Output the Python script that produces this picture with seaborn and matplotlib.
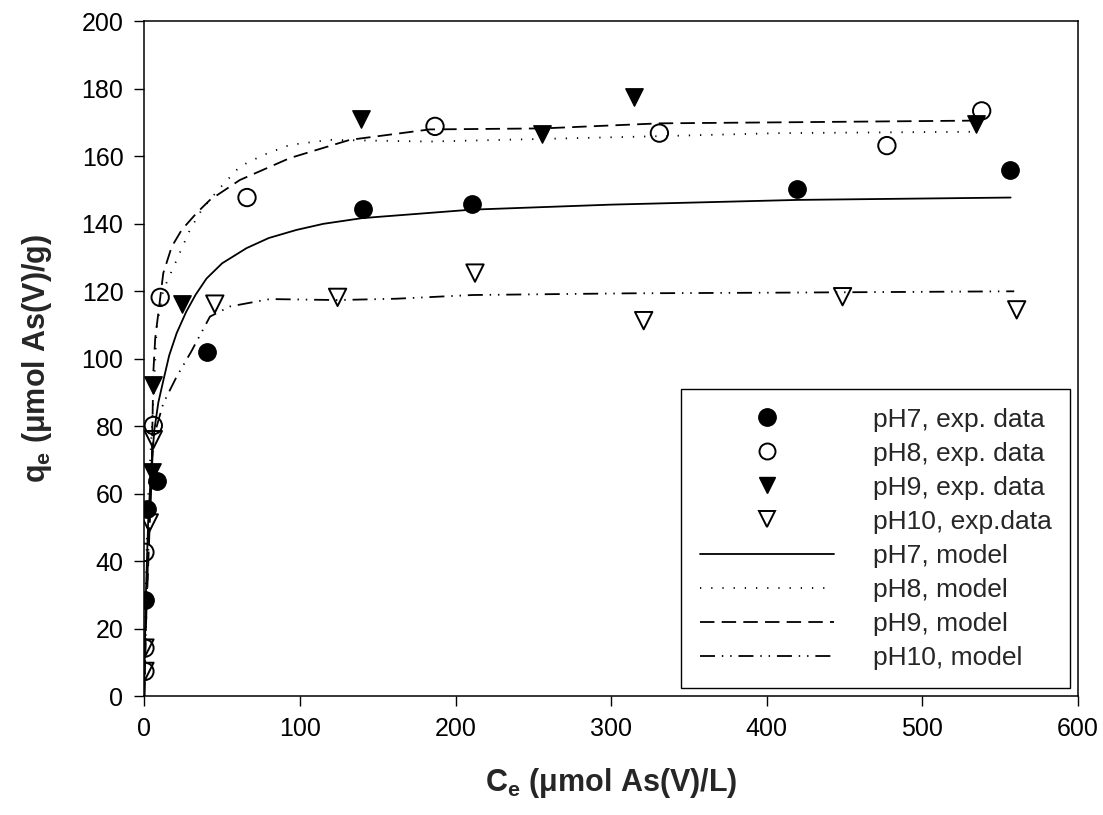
import matplotlib
matplotlib.use("Agg")
import matplotlib.pyplot as plt
from matplotlib.lines import Line2D
import seaborn as sns

# Experimental isotherm data (Ce in umol/L, qe in umol/g)
ph7_ce = [0.4, 1.9, 7.9, 40.4, 140.5, 210.5, 419.5, 556.1]
ph7_qe = [28.5, 55.5, 63.7, 102.1, 144.5, 145.8, 150.4, 156.0]

ph8_ce = [0.4, 0.4, 0.4, 5.8, 10.2, 66.0, 186.8, 331.0, 477.2, 538.1]
ph8_qe = [7.3, 14.2, 42.6, 80.2, 118.2, 147.8, 168.9, 166.9, 163.2, 173.5]

ph9_ce = [4.7, 5.8, 24.0, 139.0, 255.7, 315.0, 534.3]
ph9_qe = [66.5, 92.3, 116.3, 171.0, 166.7, 177.7, 169.6]

ph10_ce = [0.4, 0.4, 3.2, 5.8, 45.3, 124.2, 212.5, 320.9, 448.7, 560.6]
ph10_qe = [7.3, 14.2, 51.3, 76.0, 116.2, 118.2, 125.4, 111.3, 118.4, 114.5]

# Model curves
m7_ce = [0, 0.3, 1.0, 2.5, 4.5, 6.5, 9.0, 12.3, 16.0, 20.8, 27.0, 33.0, 40.0,
         50.0, 65.7, 80.0, 97.8, 115.0, 140.0, 210.0, 300.0, 420.0, 556.7]
m7_qe = [0, 12, 30, 52, 68, 79, 87, 93.7, 101, 107.6, 114, 119, 123.8,
         128.3, 132.8, 135.8, 138.2, 140.0, 141.7, 144.2, 145.7, 147.1, 147.8]

m8_ce = [0, 0.4, 2.0, 4.7, 5.8, 8.0, 12.2, 20.8, 29.3, 36.8, 47.5, 61.4, 76.4,
         93.5, 119.2, 183.0, 248.0, 331.0, 408.0, 531.0]
m8_qe = [0, 20, 55, 78, 88, 109.5, 120.4, 129.3, 138.2, 144.1, 150.1, 157.0, 160.4,
         163.4, 164.9, 164.4, 165.1, 166.0, 166.9, 167.3]

m9_ce = [0, 1.0, 3.0, 4.7, 5.2, 5.8, 7.0, 9.0, 12.2, 17.6, 24.0, 33.6, 42.2,
         61.4, 93.5, 132.0, 183.4, 256.0, 331.0, 408.0, 531.0]
m9_qe = [0, 20, 45, 66, 80, 96, 106, 113.5, 125.4, 133.2, 138.2, 143.2, 147.1,
         153.0, 159.5, 164.9, 168.0, 168.3, 169.8, 170.1, 170.6]

m10_ce = [0, 0.4, 2.0, 3.2, 5.8, 8.0, 12.2, 20.8, 30.0, 42.2, 55.0, 80.7,
          124.0, 162.0, 211.0, 311.7, 408.0, 559.0]
m10_qe = [0, 10, 35, 51, 76, 80, 86.8, 94.7, 102, 112.5, 115.5, 117.7,
          117.4, 117.8, 118.9, 119.4, 119.6, 120.0]

x_ticks = [0, 100, 200, 300, 400, 500, 600]
y_ticks = [0, 20, 40, 60, 80, 100, 120, 140, 160, 180, 200]

sns.set_theme(style="white")
plt.rcParams["font.family"] = ["Liberation Sans", "DejaVu Sans"]
plt.rcParams["mathtext.fontset"] = "custom"
plt.rcParams["mathtext.rm"] = "Liberation Sans"
plt.rcParams["mathtext.bf"] = "Liberation Sans:bold"
plt.rcParams["mathtext.it"] = "Liberation Sans:italic"

fig = plt.figure(figsize=(11.03, 8.15), dpi=100)
ax = fig.add_axes([0.13083, 0.14601, 0.84651, 0.82761])

LW = 1.3
solid = "-"
dotted = (0, (0.7, 5.5))
dashed = (0, (8, 4))
dashdotdot = (0, (8.3, 3.8, 0.8, 3.8, 0.8, 3.8))

# model lines
for ce, qe, ls in [(m7_ce, m7_qe, solid), (m8_ce, m8_qe, dotted),
                   (m9_ce, m9_qe, dashed), (m10_ce, m10_qe, dashdotdot)]:
    sns.lineplot(x=ce, y=qe, ax=ax, color="black", linewidth=LW,
                 linestyle=ls, sort=False, estimator=None, zorder=2)

MS = 12.5
# experimental points
sns.scatterplot(x=ph7_ce, y=ph7_qe, ax=ax, marker="o", s=MS**2,
                color="black", edgecolor="black", linewidth=1, zorder=3)
sns.scatterplot(x=ph8_ce, y=ph8_qe, ax=ax, marker="o", s=MS**2,
                facecolor="none", edgecolor="black", linewidth=1.4, zorder=3)
sns.scatterplot(x=ph9_ce, y=ph9_qe, ax=ax, marker="v", s=MS**2,
                color="black", edgecolor="black", linewidth=1, zorder=3)
sns.scatterplot(x=ph10_ce, y=ph10_qe, ax=ax, marker="v", s=MS**2,
                facecolor="none", edgecolor="black", linewidth=1.4, zorder=3)

ax.set_xlim(0, 600)
ax.set_ylim(0, 200)
ax.set_xticks(x_ticks)
ax.set_yticks(y_ticks)
ax.tick_params(axis="both", which="major", direction="out", length=7,
               width=1, labelsize=18, pad=8, colors="black",
               bottom=True, left=True, top=False, right=False)
for sp in ax.spines.values():
    sp.set_visible(True)
    sp.set_color("black")
    sp.set_linewidth(1.1)

ax.set_xlabel(r"$\mathbf{C_e}$ ($\mathbf{\mu}$mol As(V)/L)", fontsize=22,
              fontweight="bold", labelpad=18)
ax.set_ylabel(r"$\mathbf{q_e}$ ($\mathbf{\mu}$mol As(V)/g)", fontsize=22,
              fontweight="bold", labelpad=20)

handles = [
    Line2D([], [], ls="none", marker="o", ms=12.5, mfc="black", mec="black"),
    Line2D([], [], ls="none", marker="o", ms=11.5, mfc="none", mec="black", mew=1.4),
    Line2D([], [], ls="none", marker="v", ms=11.5, mfc="black", mec="black"),
    Line2D([], [], ls="none", marker="v", ms=11.5, mfc="none", mec="black", mew=1.4),
    Line2D([], [], color="black", lw=LW, ls=solid),
    Line2D([], [], color="black", lw=LW, ls=dotted),
    Line2D([], [], color="black", lw=LW, ls=dashed),
    Line2D([], [], color="black", lw=LW, ls=dashdotdot),
]
labels = ["pH7, exp. data", "pH8, exp. data", "pH9, exp. data", "pH10, exp.data",
          "pH7, model", "pH8, model", "pH9, model", "pH10, model"]
leg = ax.legend(handles, labels, loc="lower right", bbox_to_anchor=(0.9914, 0.0114),
                borderaxespad=0, fontsize=19, frameon=True, fancybox=False,
                framealpha=1, edgecolor="black", numpoints=1,
                handlelength=5.08, handletextpad=1.48, labelspacing=0.38,
                borderpad=0.7)
leg.get_frame().set_linewidth(1.0)

fig.savefig("out.png", dpi=100, facecolor="white")
